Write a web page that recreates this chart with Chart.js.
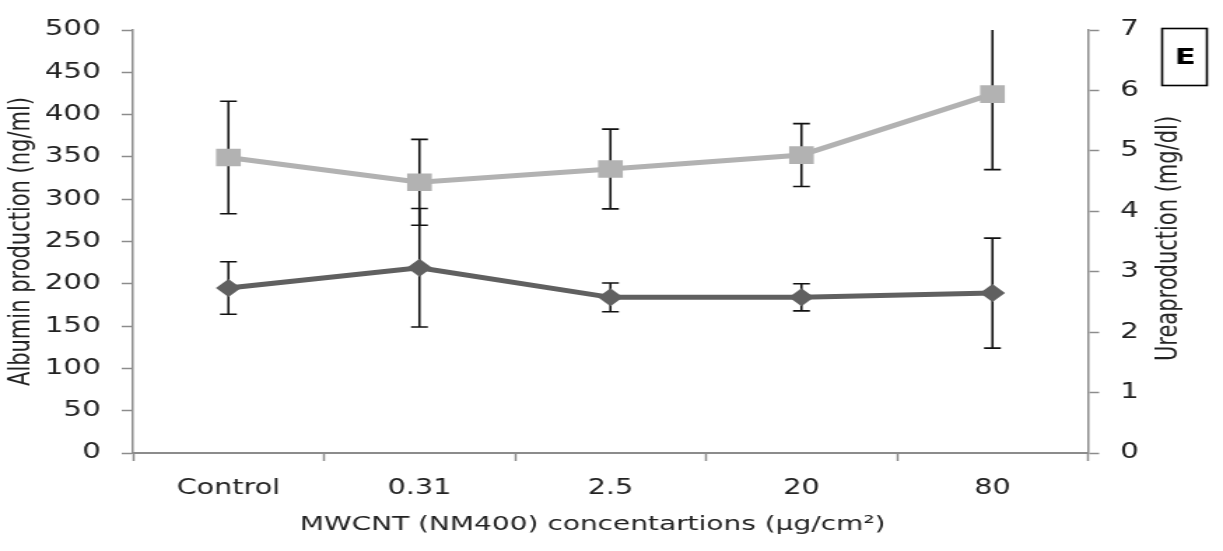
<!DOCTYPE html>
<html>
<head>
<meta charset="utf-8">
<script src="https://cdn.jsdelivr.net/npm/chart.js@4/dist/chart.umd.min.js"></script>
<style>
  html, body { margin: 0; padding: 0; background: #fff; overflow: hidden; }
  /* the original figure is stretched sideways, so the canvas is too */
  #wrap { width: 874px; height: 551px; transform: scaleX(1.3993); transform-origin: 0 0; }
</style>
</head>
<body>
<div id="wrap"><canvas id="myChart" width="874" height="551"></canvas></div>
<script>
// concentrations on the x axis
var concentrations = ['Control', '0.31', '2.5', '20', '80'];

// albumin production (ng/ml), left axis - dark diamonds
var albumin = [195, 219, 184, 184, 189];
var albuminErr = [31, 70, 17, 16, 65];

// urea production (mg/dl), right axis - light squares
var urea = [4.89, 4.48, 4.70, 4.93, 5.94];
var ureaErr = [0.93, 0.71, 0.66, 0.52, 1.25];

var albuminTicks = [0, 50, 100, 150, 200, 250, 300, 350, 400, 450, 500];
var ureaTicks = [0, 1, 2, 3, 4, 5, 6, 7];

var fontName = '"DejaVu Sans", Verdana, sans-serif';
var axisGrey = '#8c8c8c';
var textCol = '#222';

// error bars, drawn under the lines
var errorBars = {
    id: 'errorBars',
    beforeDatasetsDraw: function(chart) {
        var ctx = chart.ctx;
        var area = chart.chartArea;
        ctx.save();
        ctx.beginPath();
        ctx.rect(area.left, area.top, area.right - area.left, area.bottom - area.top);
        ctx.clip();
        ctx.strokeStyle = '#111';
        ctx.lineWidth = 1.6;
        chart.data.datasets.forEach(function(ds, i) {
            var meta = chart.getDatasetMeta(i);
            var yScale = chart.scales[ds.yAxisID];
            ds.data.forEach(function(v, j) {
                var x = meta.data[j].x;
                var top = yScale.getPixelForValue(v + ds.errors[j]);
                var bot = yScale.getPixelForValue(v - ds.errors[j]);
                ctx.beginPath();
                ctx.moveTo(x, top);
                ctx.lineTo(x, bot);
                ctx.moveTo(x - 6, top);
                ctx.lineTo(x + 6, top);
                ctx.moveTo(x - 6, bot);
                ctx.lineTo(x + 6, bot);
                ctx.stroke();
            });
        });
        ctx.restore();
    }
};

// right tick labels, x title (a little left of centre), right axis title (bottom to top), panel letter
var extras = {
    id: 'extras',
    afterDraw: function(chart) {
        var ctx = chart.ctx;
        var area = chart.chartArea;
        var y1 = chart.scales.y1;
        ctx.save();
        ctx.fillStyle = textCol;
        ctx.font = '21px ' + fontName;
        ctx.textAlign = 'left';
        ctx.textBaseline = 'middle';
        ureaTicks.forEach(function(v) {
            ctx.fillText(String(v), y1.left + 23, y1.getPixelForValue(v));
        });

        ctx.font = '20px ' + fontName;
        ctx.textAlign = 'center';
        ctx.fillText('MWCNT (NM400) concentartions (µg/cm²)', 423.5, 525);
        ctx.font = '21px ' + fontName;
        ctx.translate(836, (area.top + area.bottom) / 2 - 3);
        ctx.rotate(-Math.PI / 2);
        ctx.fillText('Ureaproduction (mg/dl)', 0, 0);
        ctx.restore();

        ctx.save();
        ctx.strokeStyle = '#000';
        ctx.lineWidth = 1.6;
        ctx.strokeRect(830.5, 28.5, 32, 57);
        ctx.fillStyle = '#000';
        ctx.font = 'bold 22px ' + fontName;
        ctx.textAlign = 'center';
        ctx.textBaseline = 'middle';
        ctx.fillText('E', 847, 58);
        ctx.restore();
    }
};

var ctx = document.getElementById('myChart').getContext('2d');
var myChart = new Chart(ctx, {
    type: 'line',
    data: {
        labels: concentrations,
        datasets: [{
            label: 'Albumin',
            data: albumin,
            errors: albuminErr,
            yAxisID: 'y',
            borderColor: '#606060',
            backgroundColor: '#606060',
            borderWidth: 5,
            pointStyle: 'rectRot',
            pointRadius: 9,
            pointBorderWidth: 0,
            tension: 0
        }, {
            label: 'Urea',
            data: urea,
            errors: ureaErr,
            yAxisID: 'y1',
            borderColor: '#b2b2b2',
            backgroundColor: '#b2b2b2',
            borderWidth: 5,
            pointStyle: 'rect',
            pointRadius: 12.5,
            pointBorderWidth: 0,
            tension: 0
        }]
    },
    options: {
        responsive: false,
        animation: false,
        devicePixelRatio: 1,
        layout: { padding: { top: 30, left: 0, right: 0, bottom: 0 } },
        plugins: {
            legend: { display: false },
            tooltip: { enabled: false }
        },
        scales: {
            x: {
                offset: true,
                grid: {
                    offset: true,
                    drawOnChartArea: false,
                    color: axisGrey,
                    tickLength: 8,
                    tickWidth: 1.5
                },
                border: { color: axisGrey, width: 2 },
                ticks: {
                    color: textCol,
                    font: { family: fontName, size: 20.5 },
                    padding: 15,
                    maxRotation: 0
                },
                afterFit: function(scale) {
                    scale.height = 98;
                    scale.paddingLeft = 0;
                    scale.paddingRight = 0;
                }
            },
            y: {
                position: 'left',
                min: 0,
                max: 500,
                afterBuildTicks: function(scale) {
                    scale.ticks = albuminTicks.map(function(v) { return { value: v }; });
                },
                grid: {
                    drawOnChartArea: false,
                    color: axisGrey,
                    tickLength: 8,
                    tickWidth: 1.5
                },
                border: { color: axisGrey, width: 1.5 },
                ticks: {
                    color: textCol,
                    font: { family: fontName, size: 21 },
                    padding: 15
                },
                title: {
                    display: true,
                    text: 'Albumin production (ng/ml)',
                    color: textCol,
                    font: { family: fontName, size: 21 },
                    padding: { top: 3, bottom: 0 }
                },
                afterFit: function(scale) {
                    scale.width = 95;
                    scale.paddingTop = 0;
                    scale.paddingBottom = 0;
                }
            },
            y1: {
                position: 'right',
                min: 0,
                max: 7,
                afterBuildTicks: function(scale) {
                    scale.ticks = ureaTicks.map(function(v) { return { value: v }; });
                },
                grid: {
                    drawOnChartArea: false,
                    color: axisGrey,
                    tickLength: 8,
                    tickWidth: 1.5
                },
                border: { color: axisGrey, width: 1.5 },
                // labels are drawn by the extras plugin
                ticks: { display: false },
                afterFit: function(scale) {
                    scale.width = 96.5;
                    scale.paddingTop = 0;
                    scale.paddingBottom = 0;
                }
            }
        }
    },
    plugins: [errorBars, extras]
});
</script>
</body>
</html>
